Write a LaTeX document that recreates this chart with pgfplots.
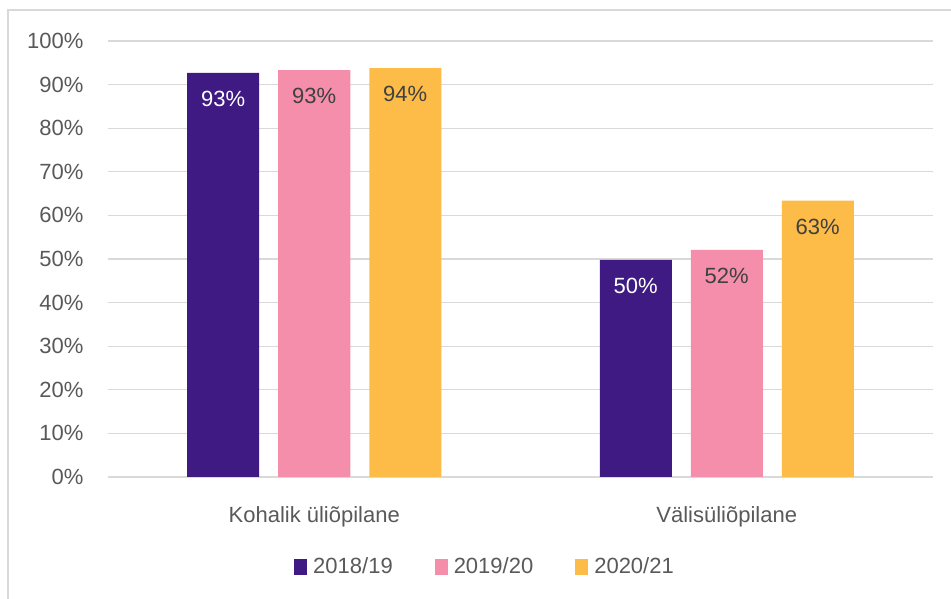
\documentclass[border=0pt]{standalone}
\usepackage{pgfplots}
\pgfplotsset{compat=1.18}
\usepackage{fontspec}
\setmainfont{Liberation Sans}
\definecolor{c1}{HTML}{3F1A82}
\definecolor{c2}{HTML}{F48EAB}
\definecolor{c3}{HTML}{FDBB47}
\definecolor{gridc}{HTML}{D9D9D9}
\definecolor{txt}{HTML}{595959}
\definecolor{lbl}{HTML}{404040}
\begin{document}
\fontsize{22}{26}\selectfont
\begin{tikzpicture}[x=1pt,y=1pt]
\useasboundingbox (-108,-122) rectangle (843,477);
\draw[gridc, line width=1.5pt] (-100,-130) -- (-100,467) -- (850,467);
\begin{axis}[
  at={(0,0)}, anchor=south west,
  scale only axis, width=825pt, height=436pt,
  xmin=-0.5, xmax=1.5, ymin=0, ymax=100,
  ybar, bar width=72pt,
  axis line style={draw=none},
  tick style={draw=none},
  ymajorgrids, grid style={gridc, line width=1.3pt},
  ytick={0,10,...,100},
  yticklabel={\pgfmathprintnumber[assume math mode=true]{\tick}\%},
  yticklabel style={text=txt, xshift=-17pt, font=\fontsize{22}{26}\selectfont},
  xtick={0,1},
  xticklabels={Kohalik üliõpilane, Välisüliõpilane},
  xticklabel style={text=txt, yshift=-18pt, font=\fontsize{22}{26}\selectfont},
  nodes near coords={\pgfmathprintnumber[fixed,precision=0,assume math mode=true]{\pgfplotspointmeta}\%},
  every node near coord/.append style={anchor=center, yshift=-26pt, font=\fontsize{22}{26}\selectfont},
  legend style={at={(0.457,-0.2064)}, anchor=center, draw=none, fill=none,
    legend columns=3, text=txt, font=\fontsize{22}{26}\selectfont,
    /tikz/every odd column/.append style={column sep=4pt},
    /tikz/every even column/.append style={column sep=40pt}},
  legend image code/.code={\fill[#1] (0pt,-8pt) rectangle (13pt,8pt);},
]
\addplot[fill=c1, draw=none, bar shift=-91pt, nodes near coords style={text=white}] coordinates {(0,92.7) (1,49.8)};
\addplot[fill=c2, draw=none, bar shift=0pt, nodes near coords style={text=lbl}] coordinates {(0,93.3) (1,52.1)};
\addplot[fill=c3, draw=none, bar shift=91pt, nodes near coords style={text=lbl}] coordinates {(0,93.8) (1,63.4)};
\legend{2018/19, 2019/20, 2020/21}
\end{axis}
\end{tikzpicture}
\end{document}
